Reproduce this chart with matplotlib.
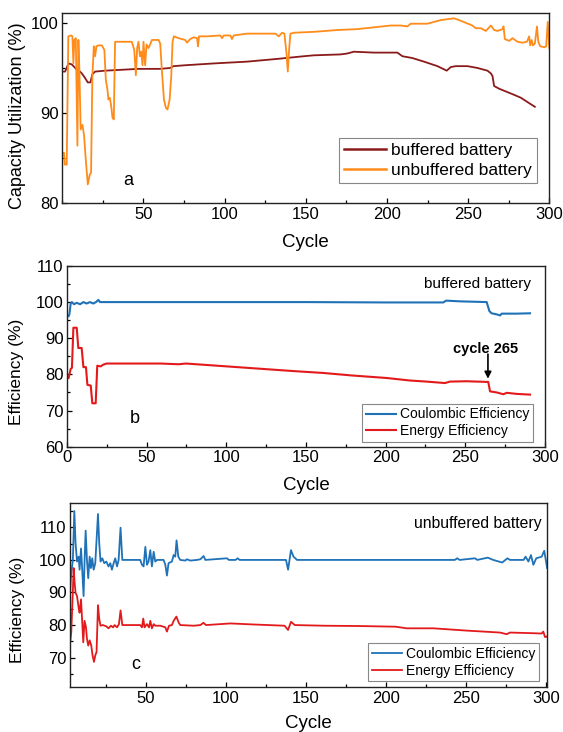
import matplotlib
matplotlib.use('Agg')
import matplotlib.pyplot as plt
from matplotlib.ticker import MultipleLocator

plt.rcParams['font.family'] = ['Liberation Sans', 'DejaVu Sans']

# (a) capacity utilization
a_buf_cycle = [1, 1.7, 2.7, 3.7, 5.8, 7.4, 8.9, 10.3, 12.0, 13.6,
               15.7, 17.3, 18.5, 20.2, 26.4, 46.9, 60.3, 66.5, 68.5, 75.7,
               93.2, 113.8, 132.3, 148.8, 155.0, 171.4, 175.5, 179.6, 192.0, 206.4,
               209.5, 215.6, 222.8, 231.1, 236.8, 239.3, 242.4, 249.6, 255.7, 261.9,
               264.0, 265.0, 266.0, 269.1, 273.2, 277.3, 282.5, 287.6, 291.1]
a_buf_cap = [94.6, 94.6, 95.0, 95.5, 95.4, 95.1, 94.8, 94.7, 94.4, 94.0,
             93.4, 93.4, 94.3, 94.6, 94.7, 94.9, 94.9, 95.0, 95.2, 95.3,
             95.5, 95.7, 96.0, 96.3, 96.4, 96.5, 96.6, 96.8, 96.7, 96.7,
             96.3, 96.1, 95.7, 95.2, 94.7, 95.1, 95.2, 95.2, 95.0, 94.7,
             94.4, 94.1, 93.0, 92.7, 92.4, 92.1, 91.7, 91.1, 90.7]

a_unbuf_cycle = [1, 1.5, 2.7, 3.7, 5.4, 6.2, 6.8, 7.4, 8.3, 9.3,
                 9.9, 10.5, 11.3, 12.4, 13.4, 14.6, 15.7, 16.9, 17.7, 18.5,
                 19.4, 20.2, 21.0, 22.2, 24.3, 25.9, 26.8, 27.8, 28.4, 29.2,
                 30.1, 30.9, 31.7, 32.5, 34.6, 42.8, 44.3, 45.3, 46.1, 46.9,
                 47.8, 48.6, 49.4, 50.0, 51.0, 51.9, 53.1, 54.3, 55.2, 59.3,
                 60.3, 61.3, 62.6, 63.8, 64.8, 66.1, 67.1, 67.9, 68.7, 71.6,
                 75.7, 76.8, 78.8, 80.9, 83.0, 83.6, 84.2, 89.1, 97.3, 98.4,
                 99.4, 103.5, 104.5, 105.6, 113.8, 124.1, 131.3, 133.3, 135.4, 136.8,
                 138.1, 138.9, 139.7, 140.5, 142.6, 155.0, 169.4,
                 181.7, 192.0, 202.3, 208.4, 212.6, 214.6, 224.9,
                 233.1, 241.3, 244.4, 248.5, 252.6, 254.7, 257.8, 260.9, 264.0, 266.0,
                 268.1, 271.2, 271.8, 272.6, 275.3, 277.3, 280.4, 283.5, 286.2, 287.6,
                 288.2, 289.1, 289.9, 291.1, 292.4, 293.2, 294.4, 296.9, 298.1, 299.0,
                 300.0]
a_unbuf_cap = [85.6, 84.3, 84.3, 98.5, 98.6, 98.5, 95.5, 98.1, 98.3, 86.4,
               98.1, 94.8, 88.2, 88.7, 87.5, 84.5, 82.1, 83.2, 83.4, 94.1,
               97.4, 96.3, 97.4, 97.5, 97.5, 97.0, 93.7, 92.6, 91.5, 91.7,
               90.8, 89.5, 89.3, 97.9, 97.9, 97.9, 97.0, 94.2, 97.2, 97.9,
               96.3, 96.8, 95.3, 97.9, 95.3, 97.6, 97.2, 97.7, 98.1, 98.1,
               97.7, 94.8, 91.5, 90.6, 90.4, 91.5, 94.1, 97.9, 98.5, 98.3,
               98.1, 97.8, 98.2, 98.4, 98.3, 97.4, 98.5, 98.5, 98.6, 98.3,
               98.6, 98.6, 98.2, 98.6, 98.8, 98.8, 98.8, 98.5, 98.9, 98.8,
               96.6, 94.6, 97.0, 98.8, 98.9, 99.0, 99.2,
               99.3, 99.5, 99.7, 99.7, 99.6, 99.9, 99.9,
               100.3, 100.5, 100.3, 100.0, 99.7, 99.4, 99.4, 99.1, 99.7, 99.2,
               99.1, 99.3, 99.6, 98.2, 98.0, 98.3, 97.9, 97.8, 97.9, 98.5,
               97.5, 98.1, 97.5, 97.7, 99.6, 97.9, 97.4, 97.3, 97.4, 100.1,
               97.2]

# (b) buffered battery efficiencies
b_ce_cycle = [1, 1.5, 2.3, 3.1, 4.4, 6.1, 8.2, 10.3, 12.3, 14.4,
              16.5, 18.2, 19.7, 20.7, 50, 100, 150, 200, 236.2, 237.9,
              246.7, 263.4, 265.1, 266.5, 269.7, 271.8, 272.8, 282.2, 290.6]
b_ce = [96.1, 96.6, 99.6, 100.0, 99.4, 99.8, 99.4, 100.0, 99.6, 100.0,
        99.6, 100.0, 100.6, 100.0, 100.0, 100.0, 100.0, 99.9, 99.9, 100.4,
        100.2, 100.0, 97.5, 96.9, 96.6, 96.3, 96.8, 96.8, 96.9]
b_ee_cycle = [1, 1.5, 2.3, 3.1, 4.0, 6.1, 7.1, 9.2, 10.3, 11.9,
              12.8, 14.9, 15.9, 18.0, 19.0, 21.1, 22.8, 24.9, 37.4, 58.8,
              70, 74.7, 97.3, 119.9, 142.5, 160.6, 178.7, 200.6, 215.3, 225.7,
              237.2, 240.4, 250.8, 264.4, 265.5, 269.7, 273.9, 276.0, 282.2, 290.6]
b_ee = [79.0, 79.9, 81.5, 81.8, 92.9, 92.9, 87.3, 87.3, 82.0, 82.0,
        77.1, 76.9, 72.0, 72.0, 82.4, 82.2, 82.7, 83.0, 83.0, 83.0,
        82.8, 83.0, 82.3, 81.6, 80.9, 80.4, 79.7, 79.0, 78.3, 78.0,
        77.6, 78.0, 78.1, 77.9, 75.3, 75.0, 74.5, 74.9, 74.6, 74.4]

# (c) unbuffered battery efficiencies
c_ce_cycle = [2.6, 3.1, 4.3, 5.2, 6.0, 6.9, 7.9, 8.5, 9.4, 10.2,
              11.0, 11.7, 12.3, 13.1, 13.9, 14.8, 15.6, 16.4, 17.3, 18.3,
              19.1, 20.0, 20.8, 21.6, 22.7, 23.9, 25.2, 26.6, 27.7, 28.7,
              29.8, 30.8, 31.9, 32.9, 34.1, 35.2, 46.4, 47.5, 48.5, 49.6,
              50.6, 51.6, 52.7, 53.7, 54.8, 55.8, 56.9, 61.0, 62.1, 63.1,
              64.1, 66.2, 67.3, 68.3, 69.1, 70.2, 71.4, 74.6, 75.6, 77.7,
              81.9, 84.0, 86.0, 87.1, 100.6, 101.8, 106.0, 107.3, 108.5, 137.5,
              138.8, 140.6, 142.2, 144.4, 243.0, 244.5, 246.0, 255.7, 257.0, 263.6,
              267.0, 272.6, 275.9, 277.5, 286.0, 287.2, 289.0, 290.6, 292.1, 293.9,
              297.3, 298.9, 300.7]
c_ce = [90.0, 95.0, 100.0, 115.0, 105.0, 99.5, 101.0, 97.0, 103.5, 96.5,
        88.9, 101.0, 109.0, 100.0, 94.4, 101.0, 97.5, 100.5, 97.0, 99.0,
        106.0, 114.1, 105.0, 99.5, 100.5, 99.0, 99.5, 98.0, 99.0, 97.0,
        99.0, 100.5, 98.0, 100.0, 109.9, 100.0, 100.0, 98.5, 98.0, 104.0,
        98.5, 99.5, 103.0, 98.0, 102.5, 99.5, 100.0, 100.0, 98.5, 95.2,
        99.0, 99.5, 101.5, 101.0, 106.0, 101.0, 100.0, 99.8, 100.2, 99.8,
        100.0, 100.2, 101.2, 100.0, 100.5, 100.0, 100.0, 100.5, 100.0, 100.0,
        97.0, 103.0, 101.0, 100.0, 100.0, 100.5, 100.0, 100.5, 100.0, 100.7,
        100.0, 99.2, 100.5, 100.0, 100.0, 101.0, 99.5, 101.5, 98.5, 100.5,
        101.0, 102.8, 97.5]
c_ee_cycle = [2.6, 3.3, 4.1, 4.8, 5.4, 6.0, 6.9, 7.9, 8.5, 9.4,
              10.0, 10.8, 11.6, 12.5, 13.1, 13.9, 14.8, 15.8, 16.6, 17.5,
              18.3, 19.1, 20.0, 20.8, 21.6, 23.1, 25.2, 26.6, 28.1, 29.4,
              30.4, 31.9, 33.1, 34.1, 35.2, 46.4, 47.5, 48.3, 49.1, 50.6,
              51.9, 52.7, 53.7, 54.8, 55.8, 59.0, 62.1, 63.1, 64.4, 66.2,
              67.3, 69.0, 70.4, 71.4, 79.8, 84.0, 85.9, 87.5, 102.8, 116.3,
              136.6, 138.8, 140.6, 143.0, 161.3, 183.8, 206.0, 213.0, 229.6, 250.4,
              271.3, 275.4, 277.5, 292.0, 297.3, 298.3, 299.4, 300.5]
c_ee = [74.7, 77.8, 87.9, 97.5, 93.0, 89.9, 88.9, 85.4, 83.8, 87.9,
        82.3, 74.7, 81.3, 79.3, 75.8, 73.7, 75.3, 73.7, 70.7, 68.7,
        70.7, 71.7, 86.1, 81.8, 79.8, 80.0, 79.6, 79.0, 79.8, 79.3,
        80.0, 79.3, 80.3, 84.5, 80.0, 80.0, 79.3, 82.0, 79.3, 80.3,
        79.3, 81.3, 79.0, 80.3, 79.8, 79.8, 79.3, 78.0, 79.8, 80.0,
        81.3, 82.6, 80.8, 80.0, 79.8, 80.0, 80.7, 80.0, 80.5, 80.2,
        79.8, 78.5, 81.0, 80.0, 79.8, 79.7, 79.5, 79.0, 79.0, 78.3,
        77.7, 77.2, 77.7, 77.5, 77.4, 78.0, 76.3, 76.5]

orange = '#ff8c1a'
brown = '#8b1a1a'
blue = '#1f72b8'
red = '#e31a1c'


def style_axis(ax):
    for s in ax.spines.values():
        s.set_linewidth(1.0)
        s.set_color('#222222')
    ax.tick_params(which='both', direction='in', top=False, right=False,
                   labelsize=12, pad=2.5, width=0.9)
    ax.tick_params(which='major', length=3.5)
    ax.tick_params(which='minor', length=2)


fig = plt.figure(figsize=(5.63, 7.32), dpi=100)
ax_a = fig.add_axes([0.1107, 0.7221, 0.865, 0.2597])
ax_b = fig.add_axes([0.119, 0.3898, 0.849, 0.2469])
ax_c = fig.add_axes([0.1243, 0.0611, 0.8478, 0.2514])

# panel a
ax_a.plot(a_buf_cycle, a_buf_cap, color=brown, lw=1.3, label='buffered battery')
ax_a.plot(a_unbuf_cycle, a_unbuf_cap, color=orange, lw=1.3, label='unbuffered battery')
ax_a.set_xlim(0, 300)
ax_a.set_ylim(80, 101.05)
ax_a.set_xticks([50, 100, 150, 200, 250, 300])
ax_a.xaxis.set_minor_locator(MultipleLocator(25))
ax_a.set_yticks([80, 90, 100])
ax_a.yaxis.set_minor_locator(MultipleLocator(5))
style_axis(ax_a)
ax_a.set_xlabel('Cycle', fontsize=13.5)
ax_a.set_ylabel('Capacity Utilization (%)', fontsize=13)
ax_a.xaxis.set_label_coords(0.5, -0.16, transform=ax_a.transAxes)
ax_a.yaxis.set_label_coords(-0.074, 0.46, transform=ax_a.transAxes)
ax_a.text(40.8, 82.5, 'a', fontsize=13, ha='center', va='center')
leg = ax_a.legend(loc='upper right', bbox_to_anchor=(0.975, 0.344), borderaxespad=0,
                  fontsize=12.5, handlelength=2.4, labelspacing=0.25,
                  fancybox=False, framealpha=1, edgecolor='#888888',
                  borderpad=0.3, handletextpad=0.3)
leg.get_frame().set_linewidth(0.8)
for ln in leg.get_lines():
    ln.set_linewidth(1.8)

# panel b
ax_b.plot(b_ce_cycle, b_ce, color=blue, lw=1.5, label='Coulombic Efficiency')
ax_b.plot(b_ee_cycle, b_ee, color=red, lw=1.5, label='Energy Efficiency')
ax_b.set_xlim(0, 300)
ax_b.set_ylim(60, 110)
ax_b.set_xticks([0, 50, 100, 150, 200, 250, 300])
ax_b.xaxis.set_minor_locator(MultipleLocator(25))
ax_b.set_yticks([60, 70, 80, 90, 100, 110])
ax_b.yaxis.set_minor_locator(MultipleLocator(5))
style_axis(ax_b)
ax_b.set_xlabel('Cycle', fontsize=13.5)
ax_b.set_ylabel('Efficiency (%)', fontsize=12.5)
ax_b.xaxis.set_label_coords(0.5, -0.168, transform=ax_b.transAxes)
ax_b.yaxis.set_label_coords(-0.09, 0.413, transform=ax_b.transAxes)
ax_b.text(42.5, 67.9, 'b', fontsize=13, ha='center', va='center')
ax_b.text(291, 104.9, 'buffered battery', fontsize=11, ha='right', va='center')
ax_b.text(262.5, 86.9, 'cycle 265', fontsize=10.5, fontweight='bold',
          ha='center', va='center')
ax_b.annotate('', xy=(264.2, 78.8), xytext=(264.2, 85.6),
              arrowprops=dict(arrowstyle='-|>', color='black', lw=1.2,
                              mutation_scale=10, shrinkA=0, shrinkB=0))
leg = ax_b.legend(loc='upper right', bbox_to_anchor=(0.9755, 0.236), borderaxespad=0,
                  fontsize=10, handlelength=2.2, labelspacing=0.2,
                  fancybox=False, framealpha=1, edgecolor='#888888',
                  borderpad=0.25, handletextpad=0.3)
leg.get_frame().set_linewidth(0.8)

# panel c
ax_c.plot(c_ce_cycle, c_ce, color=blue, lw=1.3, label='Coulombic Efficiency')
ax_c.plot(c_ee_cycle, c_ee, color=red, lw=1.3, label='Energy Efficiency')
ax_c.set_xlim(2.5, 300.8)
ax_c.set_ylim(60.9, 117.4)
ax_c.set_xticks([50, 100, 150, 200, 250, 300])
ax_c.xaxis.set_minor_locator(MultipleLocator(25))
ax_c.set_yticks([70, 80, 90, 100, 110])
ax_c.yaxis.set_minor_locator(MultipleLocator(5))
style_axis(ax_c)
ax_c.set_xlabel('Cycle', fontsize=13.5)
ax_c.set_ylabel('Efficiency (%)', fontsize=12.5)
ax_c.xaxis.set_label_coords(0.5, -0.15, transform=ax_c.transAxes)
ax_c.yaxis.set_label_coords(-0.095, 0.42, transform=ax_c.transAxes)
ax_c.text(43.3, 67.8, 'c', fontsize=13, ha='center', va='center')
ax_c.text(297, 111.3, 'unbuffered battery', fontsize=11.3, ha='right', va='center')
leg = ax_c.legend(loc='upper right', bbox_to_anchor=(0.983, 0.239), borderaxespad=0,
                  fontsize=10, handlelength=2.2, labelspacing=0.2,
                  fancybox=False, framealpha=1, edgecolor='#888888',
                  borderpad=0.25, handletextpad=0.3)
leg.get_frame().set_linewidth(0.8)

fig.savefig('out.png', dpi=100)
